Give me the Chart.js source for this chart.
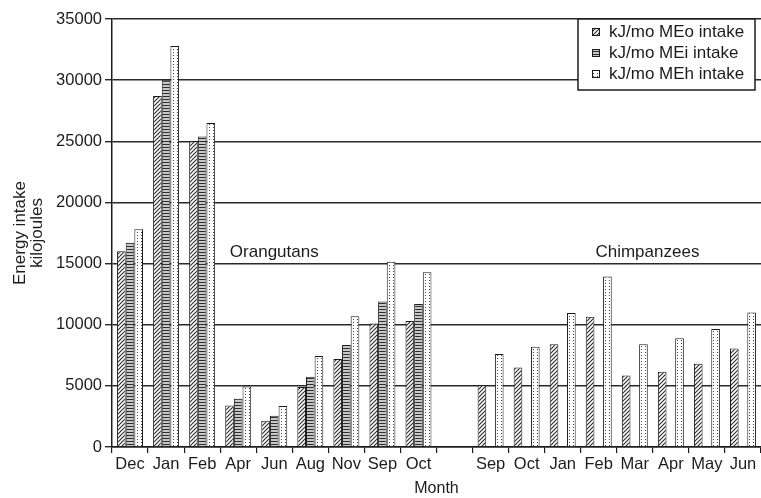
<!DOCTYPE html>
<html>
<head>
<meta charset="utf-8">
<script src="https://cdn.jsdelivr.net/npm/chart.js@4/dist/chart.umd.min.js"></script>
<style>
  html, body { margin: 0; padding: 0; background: #fff; }
  #wrap { width: 761px; height: 498px; }
</style>
</head>
<body>
<div id="wrap"><canvas id="energyChart" width="761" height="498"></canvas></div>
<script>
// Monthly energy intake, orangutans then chimpanzees (blank slot between groups)
const months = ["Dec", "Jan", "Feb", "Apr", "Jun", "Aug", "Nov", "Sep", "Oct", "",
                "Sep", "Oct", "Jan", "Feb", "Mar", "Apr", "May", "Jun"];

const meoIntake = [16000, 28700, 25000, 3400, 2150, 4900, 7200, 10100, 10300, null,
                   5050, 6500, 8400, 10650, 5850, 6150, 6800, 8050];
const meiIntake = [16700, 30000, 25400, 3950, 2550, 5750, 8350, 11900, 11700, null,
                   null, null, null, null, null, null, null, null];
const mehIntake = [17800, 32800, 26500, 4950, 3350, 7450, 10700, 15150, 14300, null,
                   7600, 8200, 10950, 13950, 8400, 8900, 9650, 11000];

const seriesNames = ["kJ/mo MEo intake", "kJ/mo MEi intake", "kJ/mo MEh intake"];
const groupNames = ["Orangutans", "Chimpanzees"];

const yTicks = [0, 5000, 10000, 15000, 20000, 25000, 30000, 35000];

const INK = "#1c1c1c";
const FONT = "'Liberation Sans', Arial, sans-serif";

// fill patterns: diagonal hatch, horizontal stripes, dots
function makePattern(kind) {
  const c = document.createElement("canvas");
  const g = c.getContext("2d");
  if (kind === "hatch") {
    c.width = 4; c.height = 4;
    g.fillStyle = "#fff"; g.fillRect(0, 0, 4, 4);
    g.strokeStyle = "#2a2a2a"; g.lineWidth = 1.1;
    g.beginPath();
    g.moveTo(-1, 5); g.lineTo(5, -1);
    g.moveTo(3, 5); g.lineTo(5, 3);
    g.moveTo(-1, 1); g.lineTo(1, -1);
    g.stroke();
  } else if (kind === "stripes") {
    c.width = 4; c.height = 3;
    g.fillStyle = "#c8c8c8"; g.fillRect(0, 0, 4, 3);
    g.fillStyle = "#2e2e2e"; g.fillRect(0, 0, 4, 1);
  } else {
    c.width = 4; c.height = 3;
    g.fillStyle = "#fff"; g.fillRect(0, 0, 4, 3);
    g.fillStyle = "#444"; g.fillRect(1, 1, 1, 1);
  }
  return g.createPattern(c, "repeat");
}

const fills = [makePattern("hatch"), makePattern("stripes"), makePattern("dots")];

function barSet(label, data, fill) {
  return {
    label: label,
    data: data,
    backgroundColor: fill,
    borderColor: INK,
    borderWidth: 1,
    categoryPercentage: 0.72,
    barPercentage: 1.0
  };
}

// group names written inside the plot
const groupLabelPlugin = {
  id: "groupLabels",
  afterDatasetsDraw(chart, args, opts) {
    const { ctx, scales: { x, y } } = chart;
    ctx.save();
    ctx.font = "17px " + FONT;
    ctx.fillStyle = INK;
    ctx.textAlign = "center";
    ctx.textBaseline = "middle";
    opts.names.forEach((name, i) => {
      ctx.fillText(name, x.getPixelForValue(opts.at[i]), y.getPixelForValue(opts.level));
    });
    ctx.restore();
  }
};

// boxed legend in the top right corner of the plot
const boxLegendPlugin = {
  id: "boxLegend",
  afterDraw(chart, args, opts) {
    const { ctx, chartArea } = chart;
    const sets = chart.data.datasets;
    const w = 177, rowH = 21, h = sets.length * rowH + 8;
    const left = chartArea.right - w - 6;
    const top = chartArea.top;
    ctx.save();
    ctx.fillStyle = "#fff";
    ctx.fillRect(left, top, w, h);
    ctx.strokeStyle = INK;
    ctx.lineWidth = 1.5;
    ctx.strokeRect(left, top, w, h);
    ctx.font = "17px " + FONT;
    ctx.textBaseline = "middle";
    sets.forEach((ds, i) => {
      const cy = top + 13 + i * rowH;
      ctx.fillStyle = ds.backgroundColor;
      ctx.fillRect(left + 14, cy - 4, 8, 8);
      ctx.lineWidth = 1;
      ctx.strokeRect(left + 14.5, cy - 3.5, 7, 7);
      ctx.fillStyle = INK;
      ctx.fillText(ds.label, left + 31, cy);
    });
    ctx.restore();
  }
};

new Chart(document.getElementById("energyChart"), {
  type: "bar",
  data: {
    labels: months,
    datasets: [
      barSet(seriesNames[0], meoIntake, fills[0]),
      barSet(seriesNames[1], meiIntake, fills[1]),
      barSet(seriesNames[2], mehIntake, fills[2])
    ]
  },
  plugins: [groupLabelPlugin, boxLegendPlugin],
  options: {
    responsive: false,
    animation: false,
    layout: { padding: { top: 19, right: 0, bottom: 0, left: 0 } },
    scales: {
      x: {
        grid: { offset: true, drawOnChartArea: false, tickLength: 6, color: INK, lineWidth: 1.2 },
        border: { color: INK, width: 1.5 },
        ticks: { color: INK, font: { family: FONT, size: 16.5 }, padding: 2, maxRotation: 0, autoSkip: false },
        title: { display: true, text: "Month", color: INK, font: { family: FONT, size: 16 }, padding: { top: 3, bottom: 0 } },
        afterFit(scale) { scale.height = 51; }
      },
      y: {
        min: 0,
        max: 35000,
        afterBuildTicks(scale) { scale.ticks = yTicks.map(v => ({ value: v })); },
        grid: { color: "#2a2a2a", lineWidth: 1.4, tickLength: 7 },
        border: { color: INK, width: 1.5 },
        ticks: { color: INK, font: { family: FONT, size: 16.5 }, padding: 3, callback: v => String(v) },
        title: {
          display: true,
          text: ["Energy intake", "kilojoules"],
          color: INK,
          font: { family: FONT, size: 17, lineHeight: 1.0 },
          padding: { top: 12, bottom: 0 }
        },
        afterFit(scale) { scale.width = 112; }
      }
    },
    plugins: {
      legend: { display: false },
      tooltip: { enabled: false },
      groupLabels: { names: groupNames, at: [4, 14.35], level: 15900 }
    }
  }
});
</script>
</body>
</html>
